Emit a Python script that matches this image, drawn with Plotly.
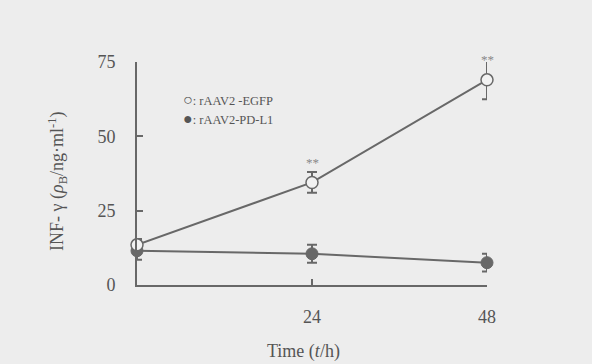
import plotly.graph_objects as go

time_h = [0, 24, 48]
egfp = [13.5, 34.5, 69.0]
egfp_err = [2.0, 3.5, 6.5]
pdl1 = [11.5, 10.5, 7.5]
pdl1_err = [3.0, 3.0, 3.0]
x_ticks = [24, 48]
y_ticks = [0, 25, 50, 75]
sig_labels = ["", "**", "**"]

gray = "#686868"
font_fam = "Liberation Serif, Times New Roman, serif"
txt = "#555555"

fig = go.Figure()
fig.add_trace(go.Scatter(
    x=time_h, y=pdl1, mode="lines+markers", name="rAAV2-PD-L1",
    line=dict(color=gray, width=2),
    marker=dict(symbol="circle", size=12, color=gray, line=dict(color=gray, width=1)),
    error_y=dict(type="data", array=pdl1_err, color=gray, thickness=2, width=5),
    cliponaxis=False, showlegend=False))
fig.add_trace(go.Scatter(
    x=time_h, y=egfp, mode="lines+markers", name="rAAV2-EGFP",
    line=dict(color=gray, width=2),
    marker=dict(symbol="circle", size=12, color="#f2f2f2", line=dict(color=gray, width=1.5)),
    error_y=dict(type="data", array=egfp_err, color=gray, thickness=2, width=5),
    cliponaxis=False, showlegend=False))

for t, v, s in zip(time_h, egfp, sig_labels):
    if s:
        fig.add_annotation(x=t, y=v, text=s, showarrow=False, yshift=20,
                           font=dict(family=font_fam, size=13, color="#888888"))

fig.add_annotation(xref="paper", yref="paper", x=0.125, y=0.879, xanchor="left",
                   text="<span style=\"font-size:16px\">○</span>: rAAV2 -EGFP", showarrow=False,
                   font=dict(family=font_fam, size=12.5, color=txt))
fig.add_annotation(xref="paper", yref="paper", x=0.125, y=0.795, xanchor="left",
                   text="<span style=\"font-size:16px\">●</span>: rAAV2-PD-L1", showarrow=False,
                   font=dict(family=font_fam, size=12.5, color=txt))

# axis titles
fig.add_annotation(xref="paper", yref="paper", x=-0.229, y=0.466, textangle=-90,
                   xanchor="center", yanchor="middle",
                   text="INF- γ (<i>ρ</i><sub>B</sub>/ng·ml<sup>-1</sup>)", showarrow=False,
                   font=dict(family=font_fam, size=18, color=txt))
fig.add_annotation(xref="paper", yref="paper", x=0.476, y=-0.296,
                   xanchor="center", yanchor="middle",
                   text="Time (<i>t</i>/h)", showarrow=False,
                   font=dict(family=font_fam, size=18, color=txt))

fig.update_layout(
    width=592, height=364,
    margin=dict(l=137, r=105, t=62, b=79),
    paper_bgcolor="#ededed", plot_bgcolor="#ededed",
    font=dict(family=font_fam, size=18, color=txt),
    xaxis=dict(range=[0, 48], tickvals=x_ticks, ticks="inside", ticklen=6,
               tickcolor=gray, tickwidth=2, showline=True, linecolor=gray,
               linewidth=2, showgrid=False, zeroline=False,
               ticklabelstandoff=14),
    yaxis=dict(range=[0, 75], tickvals=y_ticks, ticks="inside", ticklen=6,
               tickcolor=gray, tickwidth=2, showline=True, linecolor=gray,
               linewidth=2, showgrid=False, zeroline=False,
               ticklabelstandoff=16),
)

fig.write_html("out.html", config={"displayModeBar": False},
               post_script="document.body.style.margin='0';")
